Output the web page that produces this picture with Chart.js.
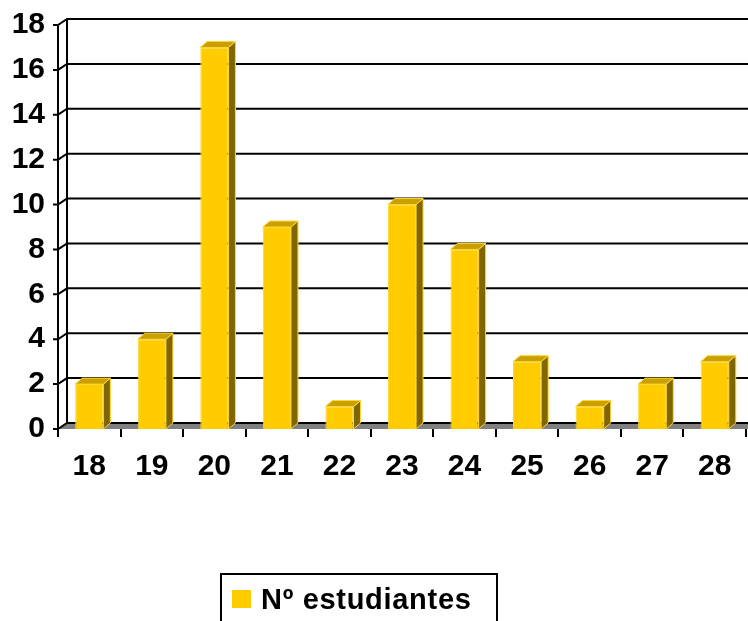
<!DOCTYPE html>
<html>
<head>
<meta charset="utf-8">
<script src="https://cdn.jsdelivr.net/npm/chart.js@4/dist/chart.umd.min.js"></script>
<style>
  html, body { margin: 0; padding: 0; background: #fff; }
  canvas { display: block; }
</style>
</head>
<body>
<canvas id="chart" width="748" height="621"></canvas>
<script>
// edades y número de estudiantes
const edades = ['18', '19', '20', '21', '22', '23', '24', '25', '26', '27', '28'];
const estudiantes = [2, 4, 17, 9, 1, 10, 8, 3, 1, 2, 3];
const serieNombre = 'Nº estudiantes';

const FRONT = '#FFCC00';
const TOP = '#C9A000';
const SIDE = '#806600';
const WALL_DX = 9, WALL_DY = -6;   // profundidad de la pared del fondo
const BAR_DX = 7, BAR_DY = -6;     // profundidad de las barras
const FONT = 'Arial, "Liberation Sans", sans-serif';

const fakeThreeD = {
    id: 'fakeThreeD',
    beforeDatasetsDraw(chart) {
        const { ctx, chartArea: a, scales: { x, y } } = chart;
        const W = chart.width;
        ctx.save();
        ctx.strokeStyle = '#000';
        ctx.lineWidth = 2;

        // suelo gris
        ctx.fillStyle = '#808080';
        ctx.beginPath();
        ctx.moveTo(a.left, a.bottom);
        ctx.lineTo(W, a.bottom);
        ctx.lineTo(W, a.bottom + WALL_DY);
        ctx.lineTo(a.left + WALL_DX, a.bottom + WALL_DY);
        ctx.closePath();
        ctx.fill();

        // líneas de la pared del fondo + diagonales de la pared lateral
        y.ticks.forEach(t => {
            const py = y.getPixelForValue(t.value);
            ctx.beginPath();
            ctx.moveTo(a.left - 5, py);
            ctx.lineTo(a.left, py);
            ctx.lineTo(a.left + WALL_DX, py + WALL_DY);
            ctx.lineTo(W, py + WALL_DY);
            ctx.stroke();
        });

        // arista de la pared del fondo
        ctx.beginPath();
        ctx.moveTo(a.left + WALL_DX, a.top + WALL_DY);
        ctx.lineTo(a.left + WALL_DX, a.bottom + WALL_DY);
        ctx.stroke();

        // eje vertical delantero
        ctx.beginPath();
        ctx.moveTo(a.left, a.top);
        ctx.lineTo(a.left, a.bottom);
        ctx.stroke();

        // marcas del eje x entre categorías
        const step = (a.right - a.left) / edades.length;
        for (let i = 0; i <= edades.length; i++) {
            const px = Math.round(a.left + i * step);
            ctx.beginPath();
            ctx.moveTo(px, a.bottom);
            ctx.lineTo(px, a.bottom + 8);
            ctx.stroke();
        }
        ctx.restore();
    },
    afterDatasetsDraw(chart) {
        const { ctx } = chart;
        const meta = chart.getDatasetMeta(0);
        ctx.save();
        ctx.lineWidth = 1;
        ctx.strokeStyle = '#FFD633';
        meta.data.forEach(bar => {
            const { x, y, base, width } = bar.getProps(['x', 'y', 'base', 'width'], true);
            const l = x - width / 2, r = x + width / 2;
            // cara lateral
            ctx.fillStyle = SIDE;
            ctx.beginPath();
            ctx.moveTo(r, y);
            ctx.lineTo(r + BAR_DX, y + BAR_DY);
            ctx.lineTo(r + BAR_DX, base + BAR_DY);
            ctx.lineTo(r, base);
            ctx.closePath();
            ctx.fill();
            ctx.stroke();
            // cara superior
            ctx.fillStyle = TOP;
            ctx.beginPath();
            ctx.moveTo(l, y);
            ctx.lineTo(l + BAR_DX, y + BAR_DY);
            ctx.lineTo(r + BAR_DX, y + BAR_DY);
            ctx.lineTo(r, y);
            ctx.closePath();
            ctx.fill();
            ctx.stroke();
        });
        ctx.restore();
    },
    afterDraw(chart) {
        // leyenda con recuadro
        const { ctx } = chart;
        const ds = chart.data.datasets[0];
        ctx.save();
        ctx.strokeStyle = '#000';
        ctx.lineWidth = 2;
        ctx.strokeRect(221, 574, 276, 60);
        ctx.fillStyle = ds.backgroundColor;
        ctx.fillRect(232, 590, 19, 18);
        ctx.fillStyle = '#000';
        ctx.font = 'bold 29px ' + FONT;
        ctx.letterSpacing = '0.7px';
        ctx.textBaseline = 'alphabetic';
        ctx.fillText(ds.label, 261, 609);
        ctx.restore();
    }
};

new Chart(document.getElementById('chart'), {
    type: 'bar',
    data: {
        labels: edades,
        datasets: [{
            label: serieNombre,
            data: estudiantes,
            backgroundColor: FRONT,
            borderColor: '#FFD633',
            borderWidth: 1,
            barPercentage: 0.45,
            categoryPercentage: 1
        }]
    },
    options: {
        responsive: false,
        animation: false,
        devicePixelRatio: 1,
        layout: { padding: { top: 25, right: 2, left: 0, bottom: 0 } },
        plugins: {
            legend: { display: false },
            tooltip: { enabled: false }
        },
        scales: {
            x: {
                grid: { display: false },
                border: { display: false },
                ticks: {
                    color: '#000',
                    font: { family: FONT, size: 30, weight: 'bold' },
                    padding: 12,
                    maxRotation: 0
                },
                afterFit(scale) { scale.height = 192; }
            },
            y: {
                min: 0,
                max: 18,
                grid: { display: false },
                border: { display: false },
                ticks: {
                    stepSize: 2,
                    color: '#000',
                    font: { family: FONT, size: 30, weight: 'bold' },
                    padding: 5
                },
                afterFit(scale) { scale.width = 58; }
            }
        }
    },
    plugins: [fakeThreeD]
});
</script>
</body>
</html>
